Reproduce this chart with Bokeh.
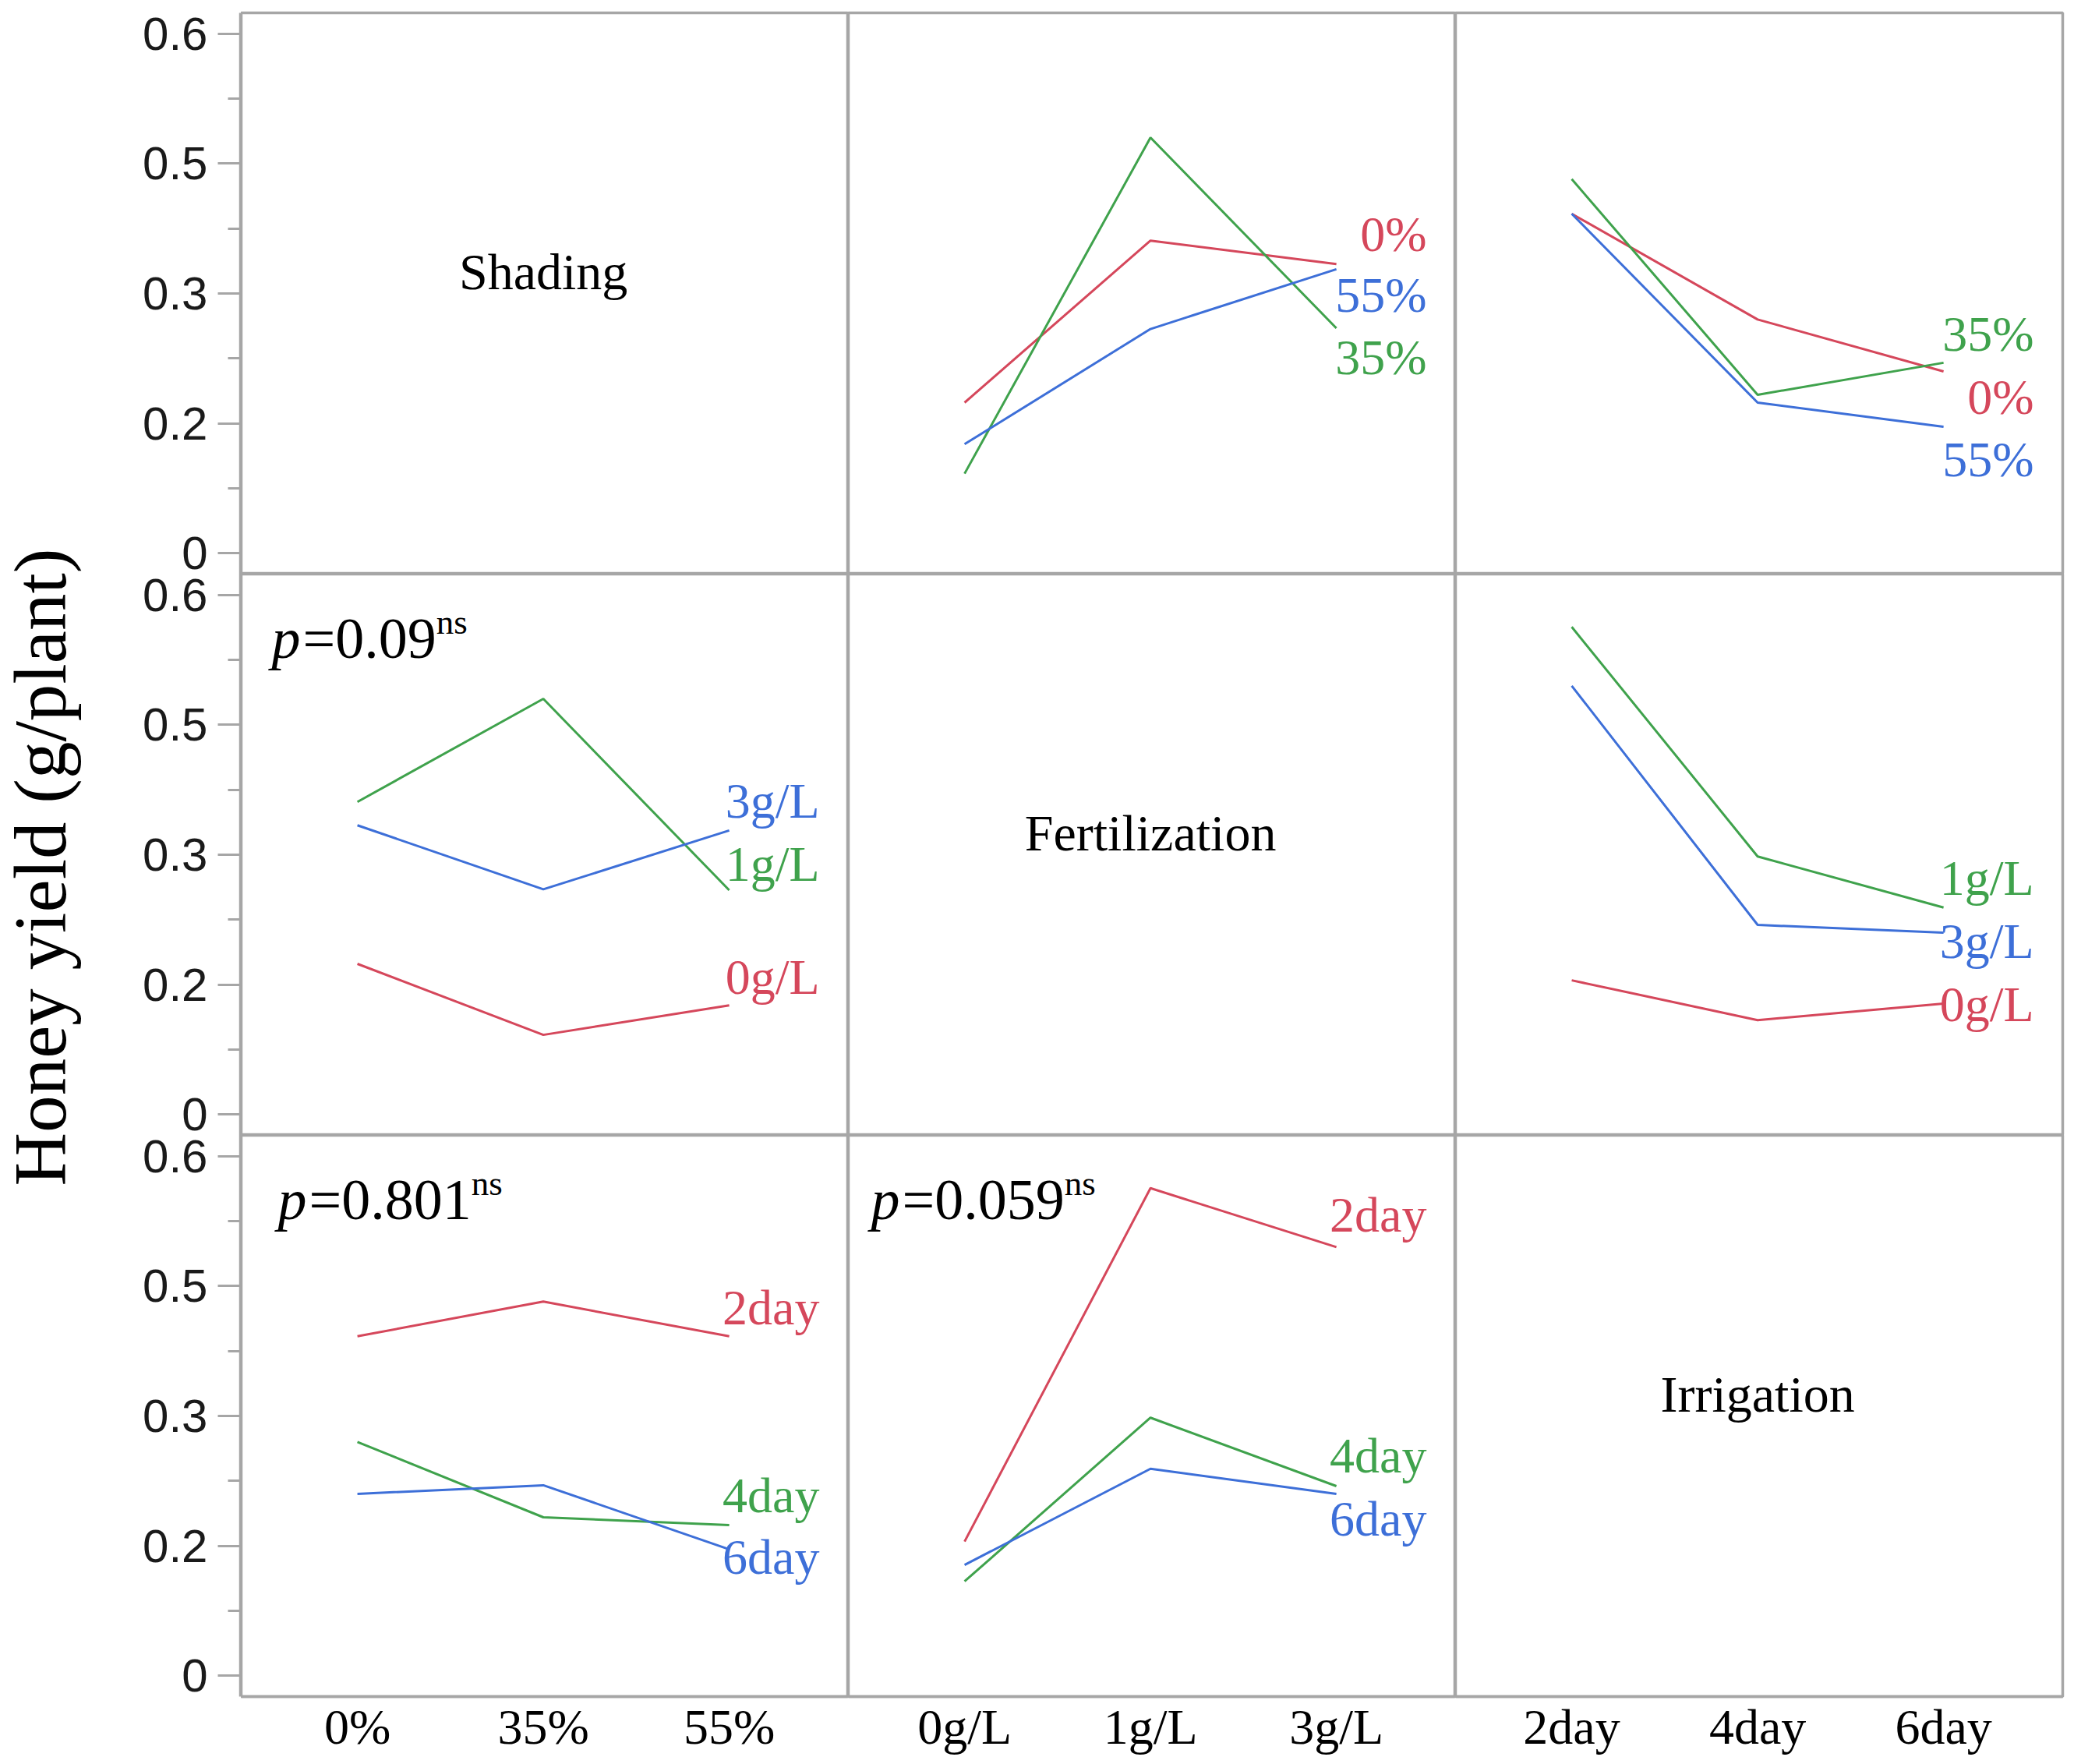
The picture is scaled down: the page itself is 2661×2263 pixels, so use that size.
import math
from bokeh.plotting import figure
from bokeh.layouts import gridplot, row
from bokeh.models import Range1d, FixedTicker, ColumnDataSource
from bokeh.core.properties import value
from bokeh.embed import file_html
from bokeh.resources import INLINE

# ---------------- data ----------------
factor_names = ["Shading", "Fertilization", "Irrigation"]
shading = ["0%", "35%", "55%"]
fertilization = ["0g/L", "1g/L", "3g/L"]
irrigation = ["2day", "4day", "6day"]
levels = [shading, fertilization, irrigation]

# mean honey yield (g/plant): rows = levels of first factor, cols = levels of second factor
shade_fert = [[0.174, 0.361, 0.334],
              [0.092, 0.480, 0.260],
              [0.126, 0.259, 0.328]]
shade_irr = [[0.392, 0.270, 0.210],
             [0.432, 0.183, 0.220],
             [0.392, 0.174, 0.146]]
fert_irr = [[0.155, 0.109, 0.128],
            [0.563, 0.298, 0.239],
            [0.495, 0.219, 0.210]]

y_ticks = [0, 0.15, 0.3, 0.45, 0.6]
y_tick_labels = ["0", "0.2", "0.3", "0.5", "0.6"]
y_minor_ticks = [0.075, 0.225, 0.375, 0.525]

p_values = {(1, 0): "0.09", (2, 0): "0.801", (2, 1): "0.059"}
y_title = "Honey yield (g/plant)"

# ---------------- styling / placement ----------------
colors = ["#d5475b", "#3fa24c", "#3d6fd8"]
GRAY = "#a6a6a6"
SERIF = "Liberation Serif"
SANS = "Liberation Sans"

pair = {(0, 1): shade_fert, (0, 2): shade_irr, (1, 2): fert_irr}

def val(tr, i, xf, j):
    if tr < xf:
        return pair[(tr, xf)][i][j]
    return pair[(xf, tr)][j][i]

# vertical positions of the end-of-line labels (data units), per panel (row, col)
label_y = {(0, 1): [0.368, 0.226, 0.298],
           (0, 2): [0.180, 0.253, 0.108],
           (1, 0): [0.159, 0.289, 0.362],
           (1, 2): [0.127, 0.273, 0.200],
           (2, 0): [0.425, 0.208, 0.137],
           (2, 1): [0.532, 0.254, 0.181]}
p_x = {(1, 0): -0.461, (2, 0): -0.428, (2, 1): -0.503}

FW, FH = 779, 720
Y0, Y1 = -0.024, 0.624          # y range of every panel
SPAN = Y1 - Y0
TOP, BOTTOM = 16, 86
TITLE_W = 120
AXIS_W = 189
P_SIZE = 74
char_w = {"=": 0.564, "0": 0.5, "1": 0.5, "5": 0.5, "8": 0.5, "9": 0.5, ".": 0.25}

figs = []
for r in range(3):
    frow = []
    for c in range(3):
        f = figure(frame_width=FW, frame_height=FH,
                   x_range=Range1d(-0.625, 2.641), y_range=Range1d(Y0, Y1),
                   output_backend="svg", toolbar_location=None,
                   x_axis_location="below" if r == 2 else None,
                   y_axis_location=None,
                   min_border=0)
        f.min_border_right = 8 if c == 2 else 0
        f.min_border_top = TOP if r == 0 else 0
        f.min_border_bottom = BOTTOM if r == 2 else 0
        f.xgrid.visible = False
        f.ygrid.visible = False
        f.outline_line_color = GRAY
        f.outline_line_width = 3.5
        f.background_fill_color = "white"
        f.border_fill_color = "white"

        if r == 2:
            ax = f.xaxis[0]
            ax.ticker = FixedTicker(ticks=[0, 1, 2], minor_ticks=[])
            ax.major_label_overrides = {k: lab for k, lab in enumerate(levels[c])}
            ax.axis_line_color = GRAY
            ax.axis_line_width = 3.5
            ax.major_tick_line_color = None
            ax.minor_tick_line_color = None
            ax.major_label_standoff = -3
            ax.major_label_text_font = SERIF
            ax.major_label_text_font_size = "64px"
            ax.major_label_text_color = "black"

        if r == c:
            f.text(x=[1], y=[0.325], text=[factor_names[r]],
                   text_font=value(SERIF), text_font_size="66px",
                   text_align="center", text_baseline="middle", text_color="black")
        else:
            for i in range(3):
                ys = [val(r, i, c, j) for j in range(3)]
                f.line(x=[0, 1, 2], y=ys, line_color=colors[i], line_width=3)
            src = ColumnDataSource(dict(x=[2.486] * 3, y=label_y[(r, c)],
                                        t=levels[r], col=colors))
            f.text(x="x", y="y", text="t", text_color="col", source=src,
                   text_font=value(SERIF), text_font_size="64px",
                   text_align="right", text_baseline="middle")
            if (r, c) in p_values:
                pv = p_values[(r, c)]
                px = p_x[(r, c)]
                f.text(x=[px], y=[0.55], text=["p"], text_font=value(SERIF),
                       text_font_style="italic", text_font_size=f"{P_SIZE}px",
                       text_baseline="alphabetic", text_align="left", text_color="black")
                main = "=" + pv
                f.text(x=[px], y=[0.55], text=[main], x_offset=40, text_font=value(SERIF),
                       text_font_size=f"{P_SIZE}px",
                       text_baseline="alphabetic", text_align="left", text_color="black")
                w = sum(char_w[ch] for ch in main) * P_SIZE
                f.text(x=[px], y=[0.55], text=["ns"], x_offset=40 + w, y_offset=-21,
                       text_font=value(SERIF), text_font_size="45px",
                       text_baseline="alphabetic", text_align="left", text_color="black")
        frow.append(f)
    figs.append(frow)

grid = gridplot(figs, toolbar_location=None)

H = TOP + 3 * FH + BOTTOM

# shared y axis column: the three panel rows stacked, each with the same 0-0.6 scale
ax_ticks, ax_minor, ax_labels = [], [], {}
for k in range(3):
    shift = (2 - k) * SPAN
    for t, lab in zip(y_ticks, y_tick_labels):
        ax_ticks.append(t - shift)
        ax_labels[t - shift] = lab
    ax_minor += [m - shift for m in y_minor_ticks]

af = figure(frame_width=1, frame_height=3 * FH, min_border=0,
            x_range=Range1d(0, 1), y_range=Range1d(Y0 - 2 * SPAN, Y1),
            x_axis_location=None, y_axis_location="left",
            output_backend="svg", toolbar_location=None)
af.min_border_left = AXIS_W - 1
af.min_border_top = TOP
af.min_border_bottom = BOTTOM
af.xgrid.visible = False
af.ygrid.visible = False
af.outline_line_color = None
ax = af.yaxis[0]
ax.ticker = FixedTicker(ticks=ax_ticks, minor_ticks=ax_minor)
ax.major_label_overrides = ax_labels
ax.axis_line_color = GRAY
ax.axis_line_width = 3.5
ax.major_tick_line_color = GRAY
ax.major_tick_line_width = 3
ax.minor_tick_line_color = GRAY
ax.minor_tick_line_width = 3
ax.major_tick_out = 29
ax.major_tick_in = 0
ax.minor_tick_out = 16
ax.minor_tick_in = 0
ax.major_label_standoff = 13
ax.major_label_text_font = SANS
ax.major_label_text_font_size = "60px"
ax.major_label_text_color = "#1a1a1a"

# narrow panel holding the rotated y-axis title, spanning the full height
tf = figure(frame_width=TITLE_W, frame_height=H, min_border=0,
            x_range=Range1d(0, TITLE_W), y_range=Range1d(0, H),
            x_axis_location=None, y_axis_location=None,
            output_backend="svg", toolbar_location=None)
tf.xgrid.visible = False
tf.ygrid.visible = False
tf.outline_line_color = None
tf.text(x=[51], y=[H - (TOP + 1.5 * FH)], text=[y_title], angle=math.pi / 2,
        text_font=value(SERIF), text_font_size="95px",
        text_align="center", text_baseline="alphabetic", text_color="black")

layout = row(tf, af, grid)

open("out.html", "w").write(file_html(layout, INLINE))
